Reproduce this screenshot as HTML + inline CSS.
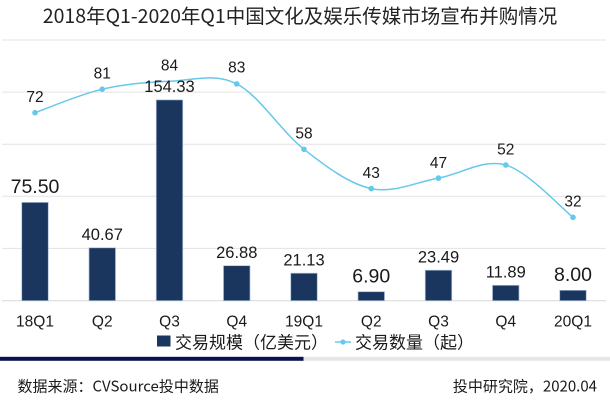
<!DOCTYPE html>
<html>
<head>
<meta charset="utf-8">
<style>
html,body{margin:0;padding:0;background:#fff;}
body{width:610px;height:415px;overflow:hidden;}
svg{display:block;}
.cjk{font-family:"Noto Sans CJK SC","Liberation Sans",sans-serif;}
.num{font-family:"Liberation Sans",Arial,sans-serif;}
</style>
</head>
<body>
<svg width="610" height="415" viewBox="0 0 610 415" xmlns="http://www.w3.org/2000/svg">
  <rect x="0" y="0" width="610" height="415" fill="#ffffff"/>
  <!-- title -->
  <text class="cjk" x="300" y="23" font-size="19.5" fill="#222" text-anchor="middle">2018年Q1-2020年Q1中国文化及娱乐传媒市场宣布并购情况</text>

  <!-- gridlines -->
  <g stroke="#e3e3e3" stroke-width="1">
    <line x1="2" y1="40" x2="606" y2="40"/>
    <line x1="2" y1="92.1" x2="606" y2="92.1"/>
    <line x1="2" y1="144.2" x2="606" y2="144.2"/>
    <line x1="2" y1="196.3" x2="606" y2="196.3"/>
    <line x1="2" y1="248.4" x2="606" y2="248.4"/>
  </g>
  <line x1="2" y1="300.7" x2="606" y2="300.7" stroke="#d9d9d9" stroke-width="1"/>

  <!-- bars -->
  <g fill="#1b365e" stroke="#a9bdd8" stroke-width="0.7">
    <rect x="21.75" y="202.4" width="26.5" height="98.3"/>
    <rect x="89" y="247.8" width="26.5" height="52.9"/>
    <rect x="156.25" y="99.9" width="26.5" height="200.8"/>
    <rect x="223.5" y="265.7" width="26.5" height="35"/>
    <rect x="290.75" y="273.2" width="26.5" height="27.5"/>
    <rect x="358" y="291.7" width="26.5" height="9"/>
    <rect x="425.25" y="270.2" width="26.5" height="30.5"/>
    <rect x="492.5" y="285.3" width="26.5" height="15.4"/>
    <rect x="559.75" y="290.3" width="26.5" height="10.4"/>
  </g>

  <!-- line -->
  <path d="M35,112.7 C46.21,108.78 79.83,94.43 102.25,89.2 C124.67,83.97 147.08,82.18 169.5,81.3 C191.92,80.42 214.33,72.57 236.75,83.9 C259.17,95.23 281.58,131.85 304,149.3 C326.42,166.75 348.83,183.8 371.25,188.6 C393.67,193.4 416.08,182.03 438.5,178.1 C460.92,174.17 483.33,158.47 505.75,165 C528.17,171.53 561.79,208.58 573,217.3" fill="none" stroke="#66c8ea" stroke-width="1.5"/>
  <g fill="#66c8ea">
    <circle cx="35" cy="112.7" r="2.8"/>
    <circle cx="102.25" cy="89.2" r="2.8"/>
    <circle cx="236.75" cy="83.9" r="2.8"/>
    <circle cx="304" cy="149.3" r="2.8"/>
    <circle cx="371.25" cy="188.6" r="2.8"/>
    <circle cx="438.5" cy="178.1" r="2.8"/>
    <circle cx="505.75" cy="165" r="2.8"/>
    <circle cx="573" cy="217.3" r="2.8"/>
  </g>

  <!-- bar labels (drawn over line) -->
  <g class="num" fill="#1a1a1a" text-anchor="middle">
    <text x="35" y="192.8" font-size="19.5">75.50</text>
    <text x="102.25" y="240" font-size="16.5">40.67</text>
    <text x="169.5" y="92" font-size="16.5">154.33</text>
    <text x="236.75" y="257.8" font-size="16.5">26.88</text>
    <text x="304" y="265.4" font-size="16.5">21.13</text>
    <text x="371.25" y="282.6" font-size="19.5">6.90</text>
    <text x="438.5" y="262.4" font-size="16.5">23.49</text>
    <text x="505.75" y="277.4" font-size="16.5">11.89</text>
    <text x="573" y="281" font-size="19.5">8.00</text>
  </g>

  <!-- line labels -->
  <g class="num" fill="#1a1a1a" text-anchor="middle" font-size="15.5">
    <text x="35" y="102.2">72</text>
    <text x="102.25" y="78.4">81</text>
    <text x="169.5" y="70.6">84</text>
    <text x="236.75" y="72.6">83</text>
    <text x="304" y="138.4">58</text>
    <text x="371.25" y="178">43</text>
    <text x="438.5" y="167.8">47</text>
    <text x="505.75" y="154.6">52</text>
    <text x="573" y="206.6">32</text>
  </g>

  <!-- x axis labels -->
  <g class="num" fill="#1a1a1a" text-anchor="middle" font-size="15.5">
    <text x="35" y="326.5">18Q1</text>
    <text x="102.25" y="326.5">Q2</text>
    <text x="169.5" y="326.5">Q3</text>
    <text x="236.75" y="326.5">Q4</text>
    <text x="304" y="326.5">19Q1</text>
    <text x="371.25" y="326.5">Q2</text>
    <text x="438.5" y="326.5">Q3</text>
    <text x="505.75" y="326.5">Q4</text>
    <text x="573" y="326.5">20Q1</text>
  </g>

  <!-- legend -->
  <rect x="157" y="335.5" width="13.5" height="11" fill="#1b365e"/>
  <text class="cjk" x="175" y="348.5" font-size="17" fill="#1a1a1a">交易规模（亿美元）</text>
  <line x1="335" y1="342" x2="351" y2="342" stroke="#66c8ea" stroke-width="1.5"/>
  <circle cx="343" cy="342" r="2.6" fill="#66c8ea"/>
  <text class="cjk" x="355" y="348.5" font-size="17" fill="#1a1a1a">交易数量（起）</text>

  <!-- separator -->
  <rect x="0" y="356.8" width="303.5" height="4" fill="#0c1150"/>
  <rect x="303.5" y="356.8" width="306.5" height="4" fill="#e6e6e6"/>

  <!-- footer -->
  <text class="cjk" x="17.5" y="391.5" font-size="15" fill="#1a1a1a">数据来源：CVSource投中数据</text>
  <text class="cjk" x="597" y="391.5" font-size="15" fill="#1a1a1a" text-anchor="end">投中研究院，2020.04</text>
</svg>
</body>
</html>
